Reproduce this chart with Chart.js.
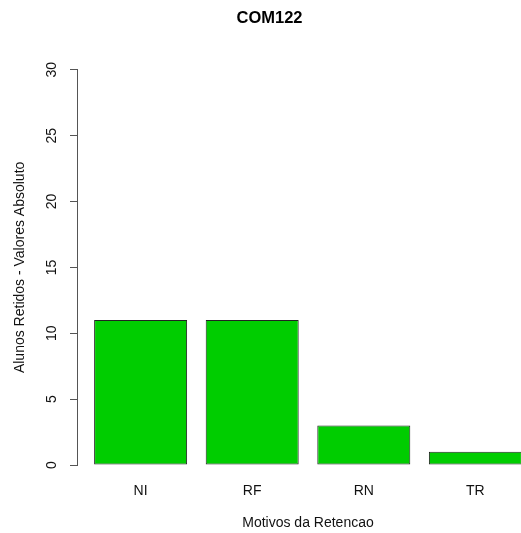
<!DOCTYPE html>
<html>
<head>
<meta charset="utf-8">
<script src="https://cdn.jsdelivr.net/npm/chart.js@4.4.1/dist/chart.umd.min.js"></script>
<style>
  html, body { margin: 0; padding: 0; background: #fff; overflow: hidden; }
  #wrap { width: 521px; height: 533px; overflow: hidden; }
</style>
</head>
<body>
<div id="wrap">
  <canvas id="chart-com122" width="616" height="533"></canvas>
</div>
<script>
const chartTitle = "COM122";
const categories = ["NI", "RF", "RN", "TR"];
const retidos = [11, 11, 3, 1];
const yTicks = [0, 5, 10, 15, 20, 25, 30];
const xTitle = "Motivos da Retencao";
const yTitle = "Alunos Retidos - Valores Absoluto";

// barplot layout like R: width 1, space 0.2
const space = 0.2;
const centers = categories.map((c, i) => space + 0.5 + i * (1 + space));
const span = categories.length * (1 + space);
const xMin = space - 0.04 * (span - space);
const xMax = span + 0.04 * (span - space);

const axisColor = "#555";
const fontFamily = "'Liberation Sans', Arial, Helvetica, sans-serif";

const ctx = document.getElementById("chart-com122").getContext("2d");
new Chart(ctx, {
  type: "bar",
  data: {
    datasets: [
      {
        label: "Alunos retidos",
        data: retidos.map((v, i) => ({ x: centers[i], y: v })),
        backgroundColor: "#00CD00",
        borderColor: "#222",
        borderWidth: 1,
        borderSkipped: false,
        categoryPercentage: 1,
        barPercentage: 1 / (1 + space),
      },
    ],
  },
  options: {
    responsive: false,
    devicePixelRatio: 1,
    animation: false,
    layout: { padding: { left: 0, right: 77, top: 0, bottom: 0 } },
    plugins: {
      legend: { display: false },
      tooltip: { enabled: false },
      title: {
        display: true,
        text: chartTitle,
        color: "#000",
        font: { family: fontFamily, size: 16.5, weight: "bold" },
        padding: { top: 9, bottom: 41 },
      },
    },
    scales: {
      x: {
        type: "linear",
        offset: false,
        min: xMin,
        max: xMax,
        afterBuildTicks: (scale) => {
          scale.ticks = centers.map((c) => ({ value: c }));
        },
        afterFit: (scale) => {
          scale.height = 68;
        },
        grid: { display: false, drawTicks: false, offset: false },
        border: { display: false },
        ticks: {
          color: "#111",
          font: { family: fontFamily, size: 14 },
          padding: 17.5,
          maxRotation: 0,
          autoSkip: false,
          callback: (value, index) => categories[index],
        },
        title: {
          display: true,
          text: xTitle,
          color: "#111",
          font: { family: fontFamily, size: 14 },
          padding: { top: 0, bottom: 1.5 },
        },
      },
      y: {
        min: 0,
        max: 30,
        afterBuildTicks: (scale) => {
          scale.ticks = yTicks.map((v) => ({ value: v }));
        },
        afterFit: (scale) => {
          scale.width = 77;
        },
        grid: {
          drawOnChartArea: false,
          drawTicks: true,
          tickLength: 7,
          color: axisColor,
        },
        border: { display: true, color: axisColor, width: 1 },
        ticks: {
          color: "#111",
          font: { family: fontFamily, size: 14 },
          minRotation: 90,
          maxRotation: 90,
          crossAlign: "center",
          padding: 10,
        },
        title: {
          display: true,
          text: yTitle,
          color: "#111",
          font: { family: fontFamily, size: 14 },
          padding: { top: 11.5, bottom: 0 },
        },
      },
    },
  },
});
</script>
</body>
</html>
